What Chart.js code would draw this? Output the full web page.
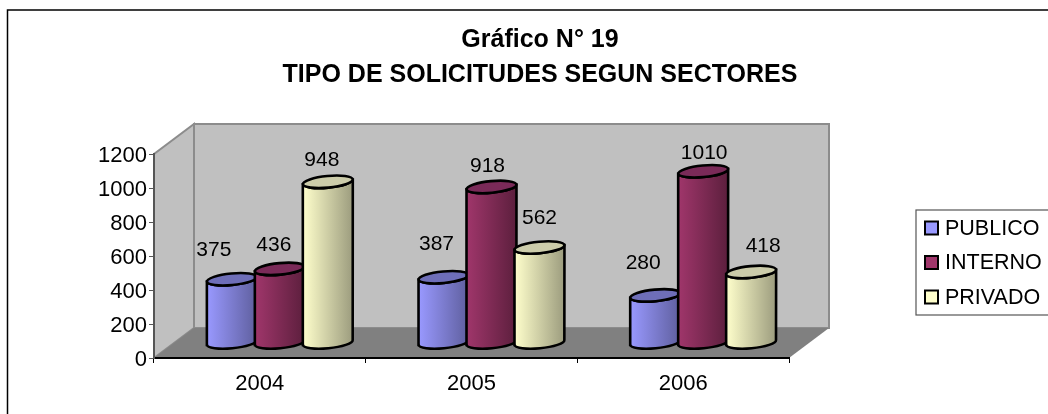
<!DOCTYPE html>
<html>
<head>
<meta charset="utf-8">
<title>Gráfico N° 19</title>
<script src="https://cdn.jsdelivr.net/npm/chart.js@4"></script>
<style>
  html, body { margin: 0; padding: 0; background: #fff; overflow: hidden; width: 1048px; height: 414px; }
  canvas { display: block; }
</style>
</head>
<body>
<canvas id="chart" width="1080" height="414"></canvas>
<script>
// data
const years = ["2004", "2005", "2006"];
const publico = [375, 387, 280];
const interno = [436, 918, 1010];
const privado = [948, 562, 418];
const titleLines = ["Gráfico N° 19", "TIPO DE SOLICITUDES SEGUN SECTORES"];

// colours: light side, dark side, top of the cylinder
const cylColors = [
  { light: "#9999ff", dark: "#5f5f9e", top: "#6e6eb8" },
  { light: "#a0366b", dark: "#5c1f3d", top: "#7a2a58" },
  { light: "#ffffcc", dark: "#9c9c7e", top: "#ccccaa" }
];
const FONT = "'Liberation Sans', Arial, sans-serif";

// depth of the 3d box, and how far the cylinders sit inside it
const depthX = 40, depthY = -30;
const midX = 20, midY = -15;
const tilt = -5.5 * Math.PI / 180;
const ryCyl = 5.8;

// label nudges, dataset then category (excel put them by hand)
const nudgeX = [[-18, -7, -12], [-6, -4, 1], [-6, 0, 12]];
const nudgeY = [[-29, -33, -32], [-24, -21, -18], [-22, -29, -26]];

// back wall, side wall and floor, drawn under the scales
const box3d = {
  id: "box3d",
  afterLayout(chart) {
    // title is centred on the whole sheet, not just the left of the padding
    chart.titleBlock.left = 0;
    chart.titleBlock.right = 1080;
  },
  beforeDraw(chart) {
    const { ctx, chartArea: a } = chart;
    ctx.save();
    // frame of the original sheet object
    ctx.strokeStyle = "#000";
    ctx.lineWidth = 1.5;
    ctx.strokeRect(7.5, 10, 1200, 1000);

    ctx.lineWidth = 2;
    ctx.strokeStyle = "#8c8c8c";
    ctx.fillStyle = "#c0c0c0";
    // side wall
    ctx.beginPath();
    ctx.moveTo(a.left, a.bottom);
    ctx.lineTo(a.left, a.top);
    ctx.lineTo(a.left + depthX, a.top + depthY);
    ctx.lineTo(a.left + depthX, a.bottom + depthY);
    ctx.closePath();
    ctx.fill();
    ctx.stroke();
    // back wall
    ctx.beginPath();
    ctx.rect(a.left + depthX, a.top + depthY, a.right - a.left, a.bottom - a.top);
    ctx.fill();
    ctx.stroke();
    // floor
    ctx.fillStyle = "#808080";
    ctx.beginPath();
    ctx.moveTo(a.left, a.bottom);
    ctx.lineTo(a.right, a.bottom);
    ctx.lineTo(a.right + depthX, a.bottom + depthY);
    ctx.lineTo(a.left + depthX, a.bottom + depthY);
    ctx.closePath();
    ctx.fill();
    ctx.restore();
  }
};

// each bar element from the library gets drawn as a cylinder
function drawCylinder(ctx, bar, col) {
  const cx = bar.x + midX;
  const rx = bar.width / 2 + 1; // they overlap a little
  const yTop = bar.y + midY;
  const yBase = bar.base + midY;
  const dy = Math.sin(tilt) * rx;
  const grad = ctx.createLinearGradient(cx - rx, 0, cx + rx, 0);
  grad.addColorStop(0, col.light);
  grad.addColorStop(1, col.dark);

  ctx.lineWidth = 2.6;
  ctx.strokeStyle = "#000";
  ctx.fillStyle = grad;
  ctx.beginPath();
  ctx.moveTo(cx - rx, yTop - dy);
  ctx.lineTo(cx - rx, yBase - dy);
  ctx.ellipse(cx, yBase, rx, ryCyl, tilt, Math.PI, 0, true);
  ctx.lineTo(cx + rx, yTop + dy);
  ctx.ellipse(cx, yTop, rx, ryCyl, tilt, 0, Math.PI, false);
  ctx.closePath();
  ctx.fill();
  ctx.stroke();

  ctx.fillStyle = col.top;
  ctx.beginPath();
  ctx.ellipse(cx, yTop, rx, ryCyl, tilt, 0, Math.PI * 2);
  ctx.fill();
  ctx.stroke();
}

const cylinders = {
  id: "cylinders",
  afterDatasetsDraw(chart) {
    const ctx = chart.ctx;
    ctx.save();
    chart.data.datasets.forEach((ds, d) => {
      chart.getDatasetMeta(d).data.forEach(bar => {
        drawCylinder(ctx, bar, cylColors[d]);
      });
    });
    // value labels
    ctx.fillStyle = "#000";
    ctx.font = "21px " + FONT;
    ctx.textAlign = "center";
    ctx.textBaseline = "middle";
    chart.data.datasets.forEach((ds, d) => {
      chart.getDatasetMeta(d).data.forEach((bar, i) => {
        ctx.fillText(ds.data[i], bar.x + midX + nudgeX[d][i], bar.y + midY + nudgeY[d][i]);
      });
    });
    ctx.restore();
  }
};

// legend box on the right, runs off the edge of the picture like the original
const sideLegend = {
  id: "sideLegend",
  afterDraw(chart) {
    const ctx = chart.ctx;
    ctx.save();
    ctx.fillStyle = "#fff";
    ctx.fillRect(916, 210, 150, 105);
    ctx.strokeStyle = "#555";
    ctx.lineWidth = 1.2;
    ctx.strokeRect(916, 210, 150, 105);
    ctx.font = "21.5px " + FONT;
    ctx.textAlign = "left";
    ctx.textBaseline = "middle";
    chart.data.datasets.forEach((ds, d) => {
      const y = 228 + d * 34.5;
      ctx.fillStyle = cylColors[d].light;
      ctx.strokeStyle = "#000";
      ctx.lineWidth = 2;
      ctx.fillRect(925, y - 6.5, 13, 13);
      ctx.strokeRect(925, y - 6.5, 13, 13);
      ctx.fillStyle = "#000";
      ctx.fillText(ds.label, 945, y + 1);
    });
    ctx.restore();
  }
};

new Chart(document.getElementById("chart").getContext("2d"), {
  type: "bar",
  data: {
    labels: years,
    datasets: [
      { label: "PUBLICO", data: publico, backgroundColor: "rgba(0,0,0,0)" },
      { label: "INTERNO", data: interno, backgroundColor: "rgba(0,0,0,0)" },
      { label: "PRIVADO", data: privado, backgroundColor: "rgba(0,0,0,0)" }
    ]
  },
  plugins: [box3d, cylinders, sideLegend],
  options: {
    responsive: false,
    animation: false,
    layout: { padding: { left: 0, right: 291, top: 0, bottom: 0 } },
    datasets: { bar: { barPercentage: 1, categoryPercentage: 0.68 } },
    plugins: {
      legend: { display: false },
      tooltip: { enabled: false },
      title: {
        display: true,
        text: titleLines,
        color: "#000",
        font: { family: FONT, size: 25, weight: "bold", lineHeight: 1.4 },
        padding: { top: 23, bottom: 61 }
      }
    },
    scales: {
      x: {
        grid: { drawOnChartArea: false, color: "#000", tickLength: 5, offset: true },
        border: { color: "#000", width: 2 },
        ticks: { color: "#000", font: { family: FONT, size: 22 }, padding: 8 },
        afterFit(scale) { scale.height = 56; }
      },
      y: {
        min: 0,
        max: 1200,
        grid: { drawOnChartArea: false, color: "#555", tickLength: 5 },
        border: { color: "#555", width: 2 },
        ticks: { stepSize: 200, color: "#000", font: { family: FONT, size: 22 }, padding: 2, labelOffset: 1.5, callback: v => String(v) },
        afterFit(scale) { scale.width = 154; }
      }
    }
  }
});
</script>
</body>
</html>
